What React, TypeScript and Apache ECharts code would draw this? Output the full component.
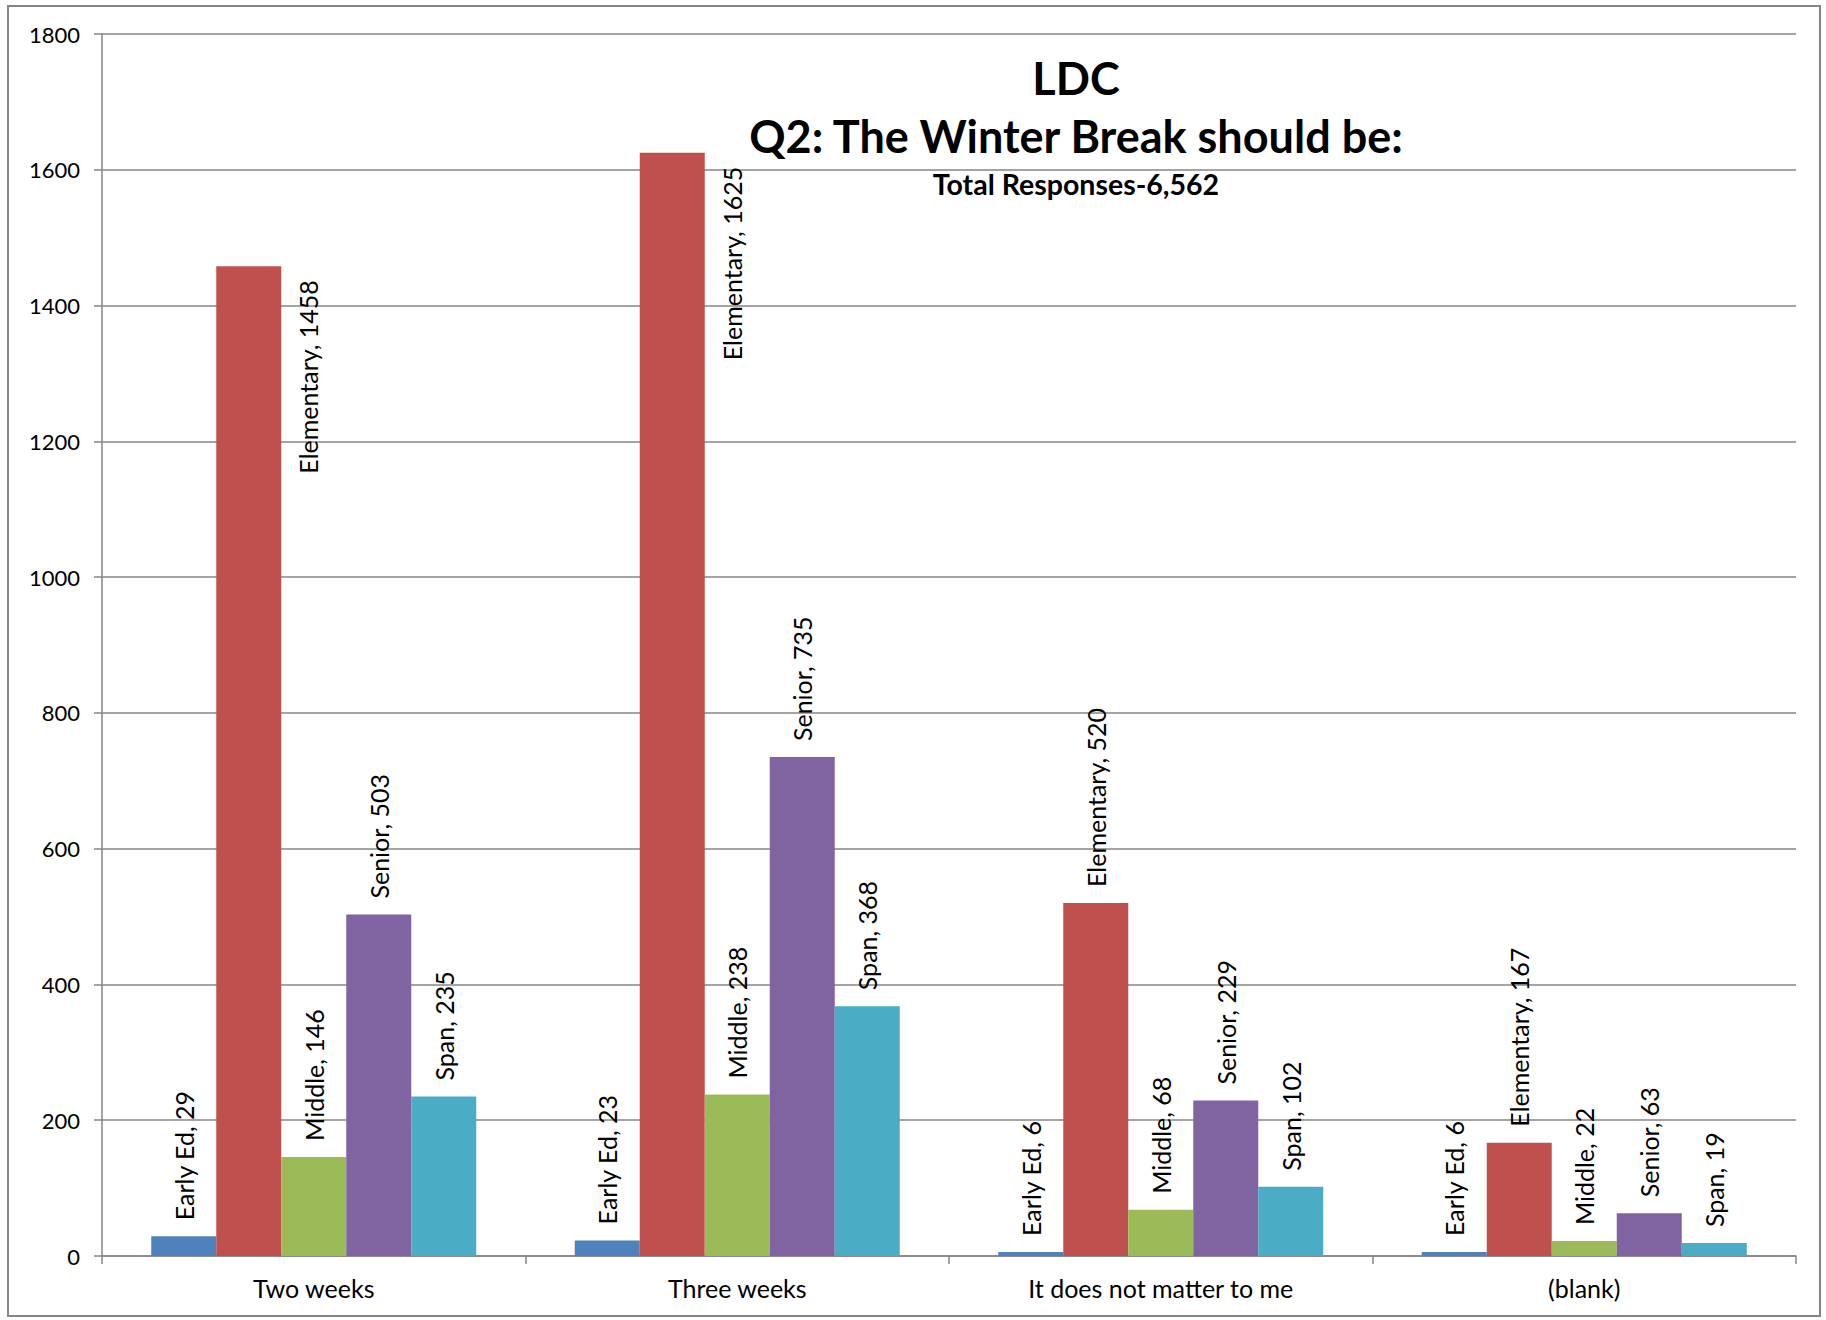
import React, { useEffect, useRef } from 'react';
import * as echarts from 'echarts';

const categories = ['Two weeks', 'Three weeks', 'It does not matter to me', '(blank)'];
const seriesNames = ['Early Ed', 'Elementary', 'Middle', 'Senior', 'Span'];
const earlyEd = [29, 23, 6, 6];
const elementary = [1458, 1625, 520, 167];
const middle = [146, 238, 68, 22];
const senior = [503, 735, 229, 63];
const span = [235, 368, 102, 19];
const colors = ['#4F81BD', '#C0504D', '#9BBB59', '#8064A2', '#4BACC6'];
const yMin = 0;
const yMax = 1800;
const yStep = 200;
const titleLines = ['LDC', 'Q2: The Winter Break should be:', 'Total Responses-6,562'];
// Elementary labels that Excel placed beside the bar (tall bars)
const sideLabelIdx = [0, 1];

const FONT = 'Lato';
const GRAY = '#868686';

export default function App() {
  const ref = useRef<HTMLDivElement>(null);
  useEffect(() => {
    const chart = echarts.init(ref.current!, null, { renderer: 'svg' });
    const values = [earlyEd, elementary, middle, senior, span];
    const baseLabel = {
      show: true,
      position: 'top',
      distance: 16,
      rotate: 90,
      align: 'left',
      verticalAlign: 'middle',
      formatter: '{a}, {c}',
      fontFamily: FONT,
      fontSize: 25,
      color: '#000',
    };
    const series = values.map((arr, si) => ({
      type: 'bar',
      name: seriesNames[si],
      barWidth: 65,
      barGap: '0%',
      itemStyle: { color: colors[si] },
      label: baseLabel,
      data: arr.map((v, i) =>
        si === 1 && sideLabelIdx.includes(i)
          ? { value: v, label: { position: [92, 14], align: 'right' } }
          : v
      ),
    }));
    const option = {
      animation: false,
      backgroundColor: '#fff',
      grid: { left: 102, right: 30, top: 34, bottom: 64, containLabel: false },
      xAxis: {
        type: 'category',
        data: categories,
        axisLine: { show: true, lineStyle: { color: GRAY, width: 1.5 } },
        axisTick: { show: true, length: 8, lineStyle: { color: GRAY, width: 1.5 } },
        axisLabel: { fontFamily: FONT, fontSize: 25, color: '#000', margin: 19 },
        splitLine: { show: false },
      },
      yAxis: {
        type: 'value',
        min: yMin,
        max: yMax,
        interval: yStep,
        axisLine: { show: true, lineStyle: { color: GRAY, width: 1.5 } },
        axisTick: { show: true, length: 8, lineStyle: { color: GRAY, width: 1.5 } },
        axisLabel: {
          fontFamily: FONT,
          fontSize: 22,
          color: '#000',
          margin: 22,
          formatter: (v: number) => String(v),
        },
        splitLine: { show: true, lineStyle: { color: GRAY, width: 1.5 } },
      },
      graphic: [
        {
          type: 'rect',
          shape: { x: 8, y: 6, width: 1812, height: 1310 },
          style: { fill: 'none', stroke: GRAY, lineWidth: 2 },
          silent: true,
        },
        {
          type: 'text', x: 1076, y: 78,
          style: { text: titleLines[0], font: 'bold 45px Lato', fill: '#000', textAlign: 'center', textVerticalAlign: 'middle' },
        },
        {
          type: 'text', x: 1076, y: 136,
          style: { text: titleLines[1], font: 'bold 45px Lato', fill: '#000', textAlign: 'center', textVerticalAlign: 'middle' },
        },
        {
          type: 'text', x: 1076, y: 184,
          style: { text: titleLines[2], font: 'bold 28.5px Lato', fill: '#000', textAlign: 'center', textVerticalAlign: 'middle' },
        },
      ],
      series,
    };
    chart.setOption(option as any);
    return () => chart.dispose();
  }, []);
  return (
    <div
      ref={ref}
      style={{ position: 'absolute', left: 0, top: 0, width: 1826, height: 1320, background: '#fff' }}
    />
  );
}
